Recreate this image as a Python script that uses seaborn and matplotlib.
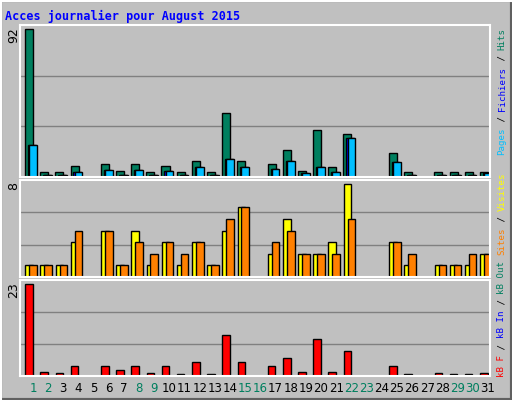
import matplotlib
matplotlib.use("Agg")
import matplotlib.pyplot as plt
import seaborn as sns
import numpy as np
from matplotlib.patches import Rectangle

sns.set_style("white")
plt.rcParams['font.family'] = ['DejaVu Sans']

days = list(range(1, 32))
weekend = [1, 2, 8, 9, 15, 16, 22, 23, 29, 30]
hits = [92, 3, 3, 7, 0, 8, 4, 8, 3, 7, 3, 10, 3, 40, 10, 0, 8, 17, 4, 29, 6, 27, 0, 0, 15, 3, 0, 3, 3, 3, 3]
files = [20, 1, 1, 3, 0, 4.5, 1, 4.5, 1, 3.5, 1, 6.5, 1, 11.5, 6.5, 0, 5, 10, 2.5, 6.5, 3, 24.5, 0, 0, 9.5, 1, 0, 1, 1, 1, 2.5]
pages = [20, 1, 1, 3, 0, 4.5, 1, 4.5, 1, 3.5, 1, 6.5, 1, 11.5, 6.5, 0, 5, 10, 2.5, 6.5, 3, 24.5, 0, 0, 9.5, 1, 0, 1, 1, 1, 2.5]
visits = [1, 1, 1, 3, 0, 4, 1, 4, 1, 3, 1, 3, 1, 4, 6, 0, 2, 5, 2, 2, 3, 8, 0, 0, 3, 1, 0, 1, 1, 1, 2]
sites = [1, 1, 1, 4, 0, 4, 1, 3, 2, 3, 2, 3, 1, 5, 6, 0, 3, 4, 2, 2, 2, 5, 0, 0, 3, 2, 0, 1, 1, 2, 2]
kb = [23, 1.1, 0.8, 2.4, 0, 2.6, 1.4, 2.6, 0.8, 2.4, 0.6, 3.6, 0.6, 10.2, 3.6, 0, 2.4, 4.4, 1.1, 9.2, 1.1, 6.4, 0, 0, 2.6, 0.6, 0, 0.8, 0.6, 0.6, 0.8]

BG = "#c0c0c0"
W, H = 512, 400
fig = plt.figure(figsize=(5.12, 4.0), dpi=100, facecolor=BG)

def px_axes(x0, y0, x1, y1):
    return fig.add_axes([x0 / W, 1 - y1 / H, (x1 - x0) / W, (y1 - y0) / H])

x = np.array(days, dtype=float)
xl = (1 - 13 / 15.16, 1 + 457 / 15.16)

def mask(v):
    return [val if val > 0 else np.nan for val in v]

panels = [
    (25, 177, 94.5, "92"),
    (180, 277, 8.37, "8"),
    (280, 376, 24.1, "23"),
]
axes = []
for (y0, y1, ymax, lab) in panels:
    ax = px_axes(20, y0, 490, y1)
    ax.set_facecolor(BG)
    ax.set_xlim(*xl)
    ax.set_ylim(0, ymax)
    for f in (1 / 3, 2 / 3):
        ax.axhline(ymax * f, color="#808080", lw=1, zorder=0)
    ax.set_xticks([]); ax.set_yticks([])
    for s in ax.spines.values():
        s.set_color("white"); s.set_linewidth(1.5)
    fig.text(14 / W, 1 - (y0 + 2) / H, lab, rotation=90, ha="center", va="top",
             fontsize=9, color="black")
    axes.append(ax)

a1, a2, a3 = axes
ek = dict(edgecolor="black", linewidth=1)
a1.bar(x - 0.26, mask(hits), width=0.53, color="#007f5f", **ek)
a1.bar(x - 0.08, mask(files), width=0.5, color="#0000ff", **ek)
a1.bar(x, mask(pages), width=0.5, color="#00bfff", **ek)
a2.bar(x - 0.26, mask(visits), width=0.5, color="#ffff00", **ek)
a2.bar(x, mask(sites), width=0.5, color="#ff8000", **ek)
a3.bar(x - 0.26, mask(kb), width=0.5, color="#ff0000", **ek)

for d in days:
    px = 33 + (d - 1) * 15.16
    fig.text(px / W, 1 - 389 / H, str(d), ha="center", va="center", fontsize=8.5,
             color="#007f5f" if d in weekend else "black")

fig.text(5 / W, 1 - 16 / H, "Acces journalier pour August 2015", ha="left", va="center",
         fontsize=8.5, fontweight="bold", color="#0000ff", family="DejaVu Sans Mono")

def vlegend(parts, ybottom, step=5.55):
    pos = ybottom
    for txt, col in parts:
        fig.text(502 / W, 1 - pos / H, txt, rotation=90, ha="center", va="bottom",
                 fontsize=6.6, color=col, family="DejaVu Sans Mono")
        pos -= step * len(txt)

vlegend([("Pages", "#00bfff"), (" / ", "black"), ("Fichiers", "#0000ff"),
         (" / ", "black"), ("Hits", "#007f5f")], 155)
vlegend([("kB F", "#ff0000"), (" / ", "black"), ("kB In", "#0000ff"), (" / ", "black"),
         ("kB Out", "#007f5f"), (" ", "black"), ("Sites", "#ff8000"), (" / ", "black"),
         ("Visites", "#ffff00")], 377)

# bevelled frame
fig.patches.append(Rectangle((0, 0), 1, 1, transform=fig.transFigure, fill=False,
                             edgecolor="#606060", linewidth=3))
fig.add_artist(plt.Line2D([1 / W, 1 / W], [0, 1], color="white", lw=1.5, transform=fig.transFigure))
fig.add_artist(plt.Line2D([0, 1], [1 - 1 / H, 1 - 1 / H], color="white", lw=1.5, transform=fig.transFigure))

fig.savefig("out.png", dpi=100, facecolor=BG)
